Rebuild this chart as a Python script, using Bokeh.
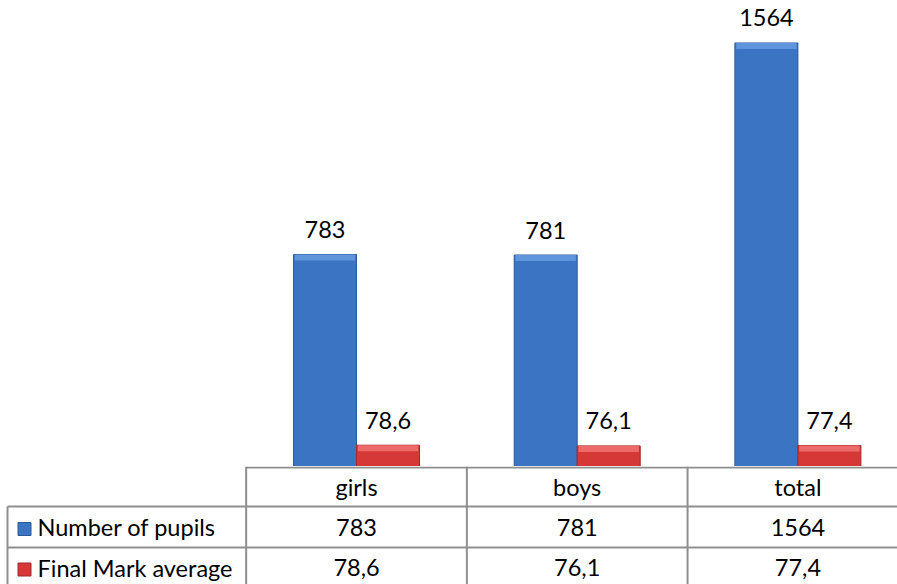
from bokeh.plotting import figure
from bokeh.models import Range1d, ColumnDataSource
from bokeh.layouts import column
from bokeh.embed import file_html
from bokeh.resources import INLINE
from bokeh.core.properties import value
from bokeh.transform import dodge

# ---------------- data ----------------
categories = ["girls", "boys", "total"]
series_names = ["Number of pupils", "Final Mark average"]
pupils = [783, 781, 1564]
mark_avg = [78.6, 76.1, 77.4]
pupils_labels = ["783", "781", "1564"]
mark_labels = ["78,6", "76,1", "77,4"]

# ---------------- layout constants ----------------
W = 897
CHART_H = 466
TABLE_H = 118
CAT_PX = 220.7          # pixels per category column
FIRST_CENTER = 356.0    # pixel of first category centre from figure left
PX_PER_UNIT = 0.2708    # vertical pixels per value unit
x_start = -FIRST_CENTER / CAT_PX
x_end = (W - FIRST_CENTER) / CAT_PX
y_end = CHART_H / PX_PER_UNIT
BEVEL = 6 / PX_PER_UNIT

FONT = value("Lato")
FSIZE = "23.5px"
BLUE = "#3a74c3"
BLUE_HI = "#5f95dc"
BLUE_EDGE = "#2b5a9a"
RED = "#d63838"
RED_HI = "#ec6a6a"
RED_EDGE = "#a52828"
GRID = "#8f8f8f"
BAR_W = 0.2855
OFF = BAR_W / 2

xs = list(range(len(categories)))
src = ColumnDataSource(dict(
    x=xs, cat=categories, pupils=pupils, mark=mark_avg,
    pl=pupils_labels, ml=mark_labels,
    pupils_b=[v - BEVEL for v in pupils],
    mark_b=[v - BEVEL for v in mark_avg],
))


def bare(fig):
    fig.grid.visible = False
    fig.outline_line_color = None
    fig.background_fill_color = "white"
    fig.border_fill_color = "white"
    fig.min_border = 0
    return fig


# ---------------- chart ----------------
p = figure(width=W, height=CHART_H, output_backend="svg", toolbar_location=None,
           x_range=Range1d(x_start, x_end), y_range=Range1d(0, y_end),
           x_axis_location=None, y_axis_location=None)
bare(p)

p.vbar(x=dodge("x", -OFF), top="pupils", width=BAR_W, source=src,
       fill_color=BLUE, line_color=BLUE_EDGE, line_width=1)
p.vbar(x=dodge("x", -OFF), top="pupils", bottom="pupils_b", width=BAR_W - 0.012,
       source=src, fill_color=BLUE_HI, line_color=None)
p.vbar(x=dodge("x", OFF), top="mark", width=BAR_W, source=src,
       fill_color=RED, line_color=RED_EDGE, line_width=1)
p.vbar(x=dodge("x", OFF), top="mark", bottom="mark_b", width=BAR_W - 0.012,
       source=src, fill_color=RED_HI, line_color=None)

p.text(x=dodge("x", -OFF), y="pupils", text="pl", source=src, y_offset=-25,
       text_align="center", text_baseline="middle", text_font=FONT,
       text_font_size=FSIZE, text_color="black")
p.text(x=dodge("x", OFF), y="mark", text="ml", source=src, y_offset=-25,
       text_align="center", text_baseline="middle", text_font=FONT,
       text_font_size=FSIZE, text_color="black")

# ---------------- data table ----------------
t = figure(width=W, height=TABLE_H, output_backend="svg", toolbar_location=None,
           x_range=p.x_range, y_range=Range1d(TABLE_H, 0),
           x_axis_location=None, y_axis_location=None)
bare(t)

ROW_LINES = [40, 81]
ROW_CENTERS = [20, 60.5, 101]
left_col = -0.5
right_col = len(categories) - 0.5
border_x = x_start + 7.0 / CAT_PX

# header top line (only over category columns)
t.segment(x0=[left_col], y0=[1], x1=[right_col + 0.1], y1=[1],
          line_color=GRID, line_width=2)
# row separators (full width)
t.segment(x0=[border_x] * len(ROW_LINES), y0=ROW_LINES,
          x1=[right_col + 0.1] * len(ROW_LINES), y1=ROW_LINES,
          line_color=GRID, line_width=2)
# vertical column lines
vx = [c - 0.5 for c in xs] + [right_col]
t.segment(x0=vx, y0=[0] * len(vx), x1=vx, y1=[TABLE_H + 5] * len(vx),
          line_color=GRID, line_width=2)
# left border of label column (below header)
t.segment(x0=[border_x], y0=[ROW_LINES[0]], x1=[border_x], y1=[TABLE_H + 5],
          line_color=GRID, line_width=2)

# header row
t.text(x="x", y=ROW_CENTERS[0], text="cat", source=src,
       text_align="center", text_baseline="middle", text_font=FONT,
       text_font_size=FSIZE, text_color="black")
# value rows
t.text(x="x", y=ROW_CENTERS[1], text="pl", source=src,
       text_align="center", text_baseline="middle", text_font=FONT,
       text_font_size=FSIZE, text_color="black")
t.text(x="x", y=ROW_CENTERS[2], text="ml", source=src,
       text_align="center", text_baseline="middle", text_font=FONT,
       text_font_size=FSIZE, text_color="black")

# legend keys + series names
key_x = x_start + 24.0 / CAT_PX
name_x = x_start + 37.0 / CAT_PX
t.scatter(x=[key_x, key_x], y=[ROW_CENTERS[1] + 2, ROW_CENTERS[2] + 2],
          marker="square", size=13,
          fill_color=[BLUE, RED], line_color=[BLUE_EDGE, RED_EDGE], line_width=1)
t.text(x=[name_x, name_x], y=[ROW_CENTERS[1], ROW_CENTERS[2]], text=series_names,
       text_align="left", text_baseline="middle", text_font=FONT,
       text_font_size=FSIZE, text_color="black")

layout = column(p, t, spacing=0)
open("out.html", "w").write(file_html(layout, INLINE))
